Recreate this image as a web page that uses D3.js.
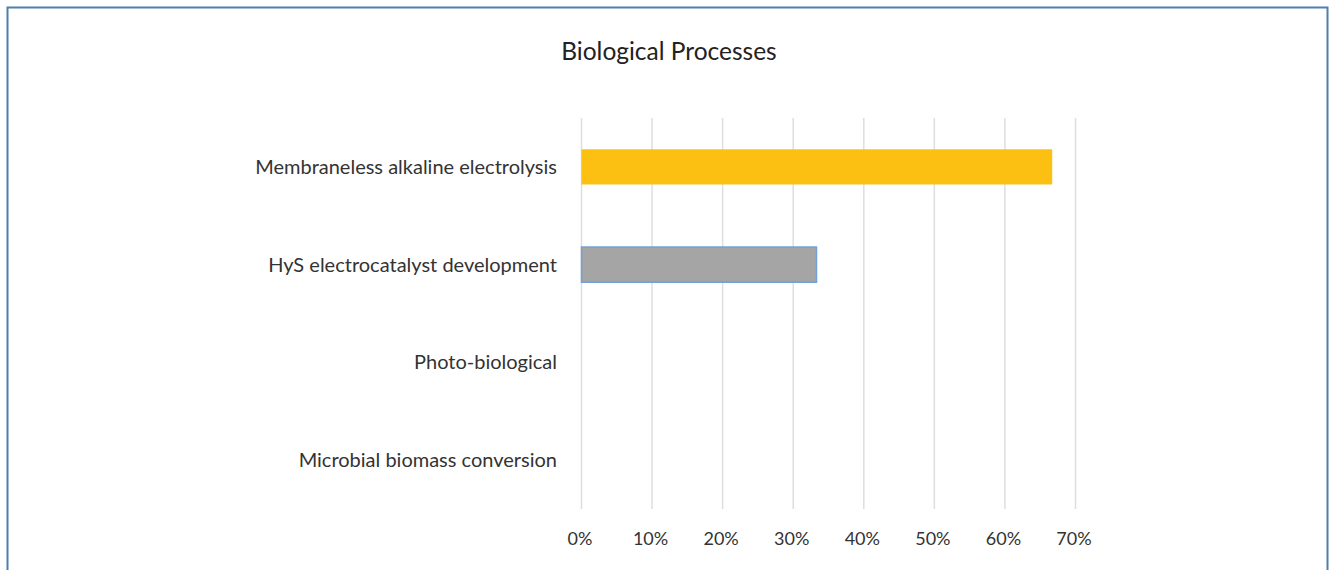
<!DOCTYPE html>
<html>
<head>
<meta charset="utf-8">
<script src="https://cdn.jsdelivr.net/npm/d3@7"></script>
<style>
  body { margin: 0; background: #fff; }
  svg { display: block; font-family: Lato, "Noto Sans", sans-serif; }
</style>
</head>
<body>
<svg width="1330" height="570"></svg>
<script>
var categories = ["Membraneless alkaline electrolysis", "HyS electrocatalyst development", "Photo-biological", "Microbial biomass conversion"]
var values = [0.667, 0.333, 0, 0]
var colors = ["#fcc012", "#a5a5a5", "#a5a5a5", "#a5a5a5"]
var ticks = [0, 0.1, 0.2, 0.3, 0.4, 0.5, 0.6, 0.7]

var svg = d3.select("svg")

// frame
svg.append("rect")
  .attr("x", 7.5).attr("y", 7.5)
  .attr("width", 1320).attr("height", 600)
  .attr("fill", "none")
  .attr("stroke", "#4f7fae")
  .attr("stroke-width", 2)

svg.append("text")
  .attr("x", 669).attr("y", 51)
  .attr("dy", "0.35em")
  .attr("text-anchor", "middle")
  .attr("font-size", 24.5)
  .attr("fill", "#222")
  .text("Biological Processes")

var x = d3.scaleLinear().domain([0, 0.7]).range([581.5, 1075.5])
var y = d3.scaleBand().domain(categories).range([118, 509]).paddingInner(0.64).paddingOuter(0.32)

// gridlines
svg.append("g").selectAll("line")
  .data(ticks)
  .join("line")
  .attr("x1", function(d){ return x(d) }).attr("x2", function(d){ return x(d) })
  .attr("y1", 118).attr("y2", 509)
  .attr("stroke", "#dedede")
  .attr("stroke-width", 1.5)

// bars (zero values draw nothing)
svg.append("g").selectAll("rect")
  .data(values)
  .join("rect")
  .attr("x", x(0))
  .attr("y", function(d, i){ return y(categories[i]) })
  .attr("width", function(d){ return x(d) - x(0) })
  .attr("height", y.bandwidth())
  .attr("fill", function(d, i){ return colors[i] })
  .attr("stroke", function(d, i){ return (i == 1 && d > 0) ? "#6fa0d8" : "none" })
  .attr("stroke-width", 1.5)

// category labels
svg.append("g").selectAll("text")
  .data(categories)
  .join("text")
  .attr("x", 557)
  .attr("y", function(d){ return y(d) + y.bandwidth() / 2 })
  .attr("dy", "0.35em")
  .attr("text-anchor", "end")
  .attr("font-size", 20)
  .attr("fill", "#333")
  .text(function(d){ return d })

// tick labels
svg.append("g").selectAll("text")
  .data(ticks)
  .join("text")
  .attr("x", function(d){ return x(d) - 1.5 })
  .attr("y", 539)
  .attr("dy", "0.35em")
  .attr("text-anchor", "middle")
  .attr("font-size", 18)
  .attr("fill", "#333")
  .text(d3.format(".0%"))
</script>
</body>
</html>
